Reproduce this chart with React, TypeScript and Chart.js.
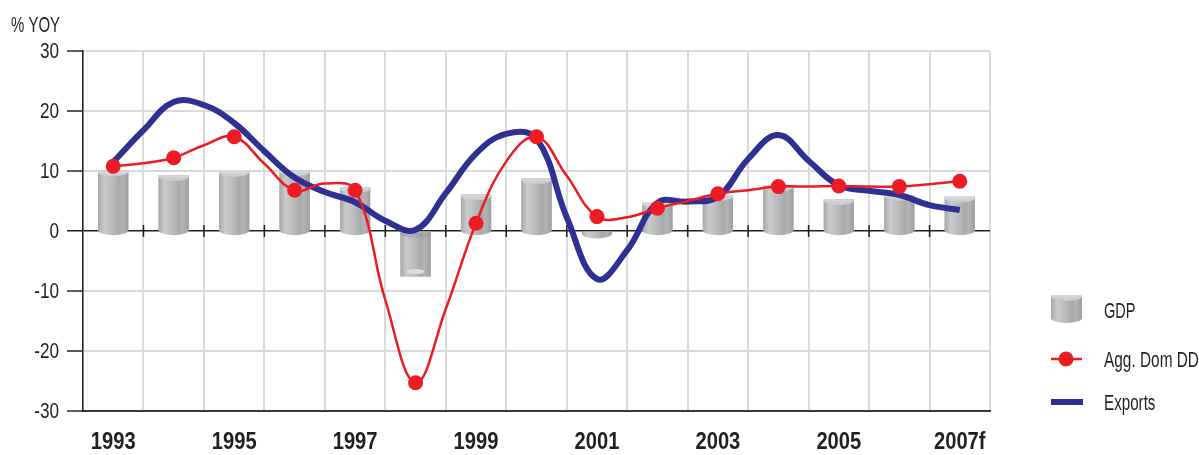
import React, { useEffect, useRef } from "react";
import { Chart, registerables } from "chart.js";

Chart.register(...registerables);

// Annual categories (GDP bars)
const yearLabels = ["1993", "1994", "1995", "1996", "1997", "1998", "1999", "2000", "2001", "2002", "2003", "2004", "2005", "2006", "2007f"];
const gdpGrowth = [10.1, 9.3, 10.0, 10.1, 7.3, -7.6, 6.1, 8.8, -0.4, 4.7, 6.0, 7.6, 5.3, 6.0, 5.7];

// Half-yearly readings for the two growth lines
const lineYears = [1993, 1993.5, 1994, 1994.5, 1995, 1995.5, 1996, 1996.5, 1997, 1997.5, 1998, 1998.5, 1999, 1999.5, 2000, 2000.5, 2001, 2001.5, 2002, 2002.5, 2003, 2003.5, 2004, 2004.5, 2005, 2005.5, 2006, 2006.5, 2007];
const aggDomDemand = [10.8, 11.3, 12.2, 14.3, 15.7, 11.2, 6.8, 7.9, 6.8, -11.5, -25.3, -13.0, 1.3, 11.6, 15.7, 9.2, 2.4, 2.3, 3.8, 5.0, 6.2, 6.8, 7.4, 7.4, 7.5, 7.4, 7.4, 7.8, 8.3];
const exportsGrowth = [11.5, 16.8, 21.5, 21.0, 18.0, 13.3, 8.9, 6.5, 4.8, 1.7, 0.2, 6.3, 12.9, 16.2, 15.4, 2.3, -8.0, -3.2, 4.7, 4.9, 5.7, 12.0, 16.0, 11.7, 7.6, 6.7, 6.0, 4.3, 3.5];

const yTicks = [-30, -20, -10, 0, 10, 20, 30];

const FONT = "'Liberation Sans', Arial, sans-serif";
const INK = "#231f20";
const RED = "#ed1c24";
const NAVY = "#2e3192";

// Draws text squeezed horizontally to give a condensed face.
function narrowText(ctx: CanvasRenderingContext2D, text: string, x: number, y: number, align: CanvasTextAlign, squeeze: number) {
  ctx.save();
  ctx.translate(x, y);
  ctx.scale(squeeze, 1);
  ctx.textAlign = align;
  ctx.textBaseline = "middle";
  ctx.fillText(text, 0, 0);
  ctx.restore();
}

function cylinderFill(ctx: CanvasRenderingContext2D, left: number, right: number) {
  const g = ctx.createLinearGradient(left, 0, right, 0);
  g.addColorStop(0, "#a7a8aa");
  g.addColorStop(0.2, "#c9cacc");
  g.addColorStop(0.45, "#bbbcbe");
  g.addColorStop(0.68, "#a8a9ab");
  g.addColorStop(0.8, "#b3b4b6");
  g.addColorStop(1, "#9d9ea0");
  return g;
}

function drawCylinder(ctx: CanvasRenderingContext2D, cx: number, w: number, top: number, bottom: number, positive: boolean) {
  const left = cx - w / 2;
  const right = cx + w / 2;
  const rx = w / 2;
  const tall = bottom - top > 10;
  ctx.save();
  ctx.fillStyle = cylinderFill(ctx, left, right);
  ctx.beginPath();
  ctx.moveTo(left, top);
  ctx.lineTo(right, top);
  ctx.lineTo(right, bottom);
  if (positive || !tall) {
    ctx.ellipse(cx, bottom, rx, 5, 0, 0, Math.PI, false);
  } else {
    ctx.lineTo(left, bottom);
  }
  ctx.closePath();
  ctx.fill();

  if (positive) {
    // lighter top face
    const tg = ctx.createLinearGradient(0, top, 0, top + 7);
    tg.addColorStop(0, "#d8d9da");
    tg.addColorStop(1, "#c4c5c7");
    ctx.fillStyle = tg;
    ctx.beginPath();
    ctx.moveTo(left, top);
    ctx.lineTo(right, top);
    ctx.ellipse(cx, top + 1, rx, 5, 0, 0, Math.PI, false);
    ctx.closePath();
    ctx.fill();
  } else if (tall) {
    // highlight near the lower end
    ctx.fillStyle = "rgba(225,226,228,0.9)";
    ctx.beginPath();
    ctx.ellipse(cx, bottom - 5, rx * 0.6, 2.5, 0, 0, Math.PI * 2);
    ctx.fill();
    ctx.fillStyle = "rgba(140,141,143,0.35)";
    ctx.beginPath();
    ctx.ellipse(cx, top + 2, rx, 4, 0, 0, Math.PI, false);
    ctx.lineTo(left, top);
    ctx.closePath();
    ctx.fill();
  }
  ctx.restore();
}

const cylinderBars = {
  id: "cylinderBars",
  afterDatasetDraw(chart: any, args: any) {
    if (args.index !== 0) return;
    const ctx = chart.ctx as CanvasRenderingContext2D;
    args.meta.data.forEach((el: any, i: number) => {
      const { x, y, base, width } = el.getProps(["x", "y", "base", "width"], true);
      const positive = gdpGrowth[i] >= 0;
      drawCylinder(ctx, x, width, Math.min(y, base), Math.max(y, base), positive);
    });
  },
};

const zeroLineTicks = {
  id: "zeroLineTicks",
  beforeDatasetsDraw(chart: any) {
    const ctx = chart.ctx as CanvasRenderingContext2D;
    const xs = chart.scales.x;
    const y0 = chart.scales.y.getPixelForValue(0);
    const n = yearLabels.length;
    const step = (xs.right - xs.left) / n;
    ctx.save();
    ctx.strokeStyle = INK;
    ctx.lineWidth = 1.5;
    for (let i = 1; i < n; i++) {
      const px = xs.left + i * step;
      ctx.beginPath();
      ctx.moveTo(px, y0 - 6);
      ctx.lineTo(px, y0 + 6);
      ctx.stroke();
    }
    ctx.restore();
  },
};

const axisLabels = {
  id: "axisLabels",
  afterDraw(chart: any) {
    const ctx = chart.ctx as CanvasRenderingContext2D;
    const ys = chart.scales.y;
    const xs = chart.scales.x;
    ctx.save();
    ctx.fillStyle = INK;
    ctx.font = `22px ${FONT}`;
    ys.ticks.forEach((t: any) => {
      narrowText(ctx, String(t.value), ys.right - 24, ys.getPixelForValue(t.value) + 1, "right", 0.78);
    });
    ctx.font = `bold 24px ${FONT}`;
    yearLabels.forEach((label, i) => {
      if (i % 2 !== 0) return;
      narrowText(ctx, label, xs.getPixelForValue(i), xs.top + 31, "center", 0.84);
    });
    ctx.restore();
  },
};

const titleAndLegend = {
  id: "titleAndLegend",
  afterDraw(chart: any) {
    const ctx = chart.ctx as CanvasRenderingContext2D;
    ctx.save();
    ctx.fillStyle = INK;
    ctx.font = `22px ${FONT}`;
    narrowText(ctx, "% YOY", 11, 26, "left", 0.68);

    // GDP swatch
    drawCylinder(ctx, 1066.5, 31, 295, 318, true);
    ctx.fillStyle = INK;
    narrowText(ctx, "GDP", 1104, 312, "left", 0.66);

    // Agg. Dom DD swatch
    ctx.strokeStyle = RED;
    ctx.lineWidth = 2.5;
    ctx.beginPath();
    ctx.moveTo(1051, 359);
    ctx.lineTo(1082, 359);
    ctx.stroke();
    ctx.fillStyle = RED;
    ctx.beginPath();
    ctx.arc(1066, 359, 7.5, 0, Math.PI * 2);
    ctx.fill();
    ctx.fillStyle = INK;
    narrowText(ctx, "Agg. Dom DD", 1104, 361, "left", 0.7);

    // Exports swatch
    ctx.strokeStyle = NAVY;
    ctx.lineWidth = 6;
    ctx.beginPath();
    ctx.moveTo(1051, 402);
    ctx.lineTo(1083, 402);
    ctx.stroke();
    ctx.fillStyle = INK;
    narrowText(ctx, "Exports", 1104, 404, "left", 0.69);
    ctx.restore();
  },
};

export default function App() {
  const canvasRef = useRef<HTMLCanvasElement>(null);

  useEffect(() => {
    const canvas = canvasRef.current;
    if (!canvas) return;
    const chart = new Chart(canvas, {
      type: "bar",
      data: {
        labels: yearLabels,
        datasets: [
          {
            type: "bar",
            label: "GDP",
            data: gdpGrowth,
            xAxisID: "x",
            backgroundColor: "#b3b4b6",
            borderWidth: 0,
            grouped: false,
            barPercentage: 0.5,
            categoryPercentage: 1,
            order: 3,
          } as any,
          {
            type: "line",
            label: "Agg. Dom DD",
            data: lineYears.map((x, i) => ({ x, y: aggDomDemand[i] })),
            xAxisID: "x2",
            borderColor: RED,
            backgroundColor: RED,
            borderWidth: 2.5,
            tension: 0.4,
            pointRadius: (c: any) => (c.raw && Number.isInteger(c.raw.x) ? 7.5 : 0),
            pointBorderWidth: 0,
            pointBackgroundColor: RED,
            order: 1,
          } as any,
          {
            type: "line",
            label: "Exports",
            data: lineYears.map((x, i) => ({ x, y: exportsGrowth[i] })),
            xAxisID: "x2",
            borderColor: NAVY,
            backgroundColor: NAVY,
            borderWidth: 6,
            borderCapStyle: "butt",
            borderJoinStyle: "round",
            tension: 0.4,
            pointRadius: 0,
            order: 2,
          } as any,
        ],
      },
      options: {
        responsive: false,
        animation: false,
        devicePixelRatio: 1,
        layout: { padding: { left: 0, top: 51, right: 209, bottom: 0 } },
        plugins: {
          legend: { display: false },
          tooltip: { enabled: false },
          title: { display: false },
        },
        scales: {
          x: {
            type: "category",
            offset: true,
            grid: {
              offset: true,
              color: "#dadada",
              lineWidth: 2,
              drawTicks: false,
            },
            border: { color: "#3a3a3a", width: 2 },
            ticks: { display: false, autoSkip: false },
            afterFit: (s: any) => {
              s.height = 44;
            },
          },
          x2: {
            type: "linear",
            display: false,
            offset: false,
            grid: { offset: false },
            min: 1992.5,
            max: 2007.5,
          },
          y: {
            min: -30,
            max: 30,
            afterBuildTicks: (s: any) => {
              s.ticks = yTicks.map((value) => ({ value }));
            },
            grid: {
              color: (c: any) => (c.tick && c.tick.value === 0 ? INK : "#dadada"),
              lineWidth: (c: any) => (c.tick && c.tick.value === 0 ? 1.5 : 2),
              tickColor: INK,
              tickLength: 16,
              tickWidth: 1.5,
            },
            border: { color: INK, width: 1.5 },
            ticks: { display: false },
            afterFit: (s: any) => {
              s.width = 83;
            },
          },
        },
      },
      plugins: [cylinderBars, zeroLineTicks, axisLabels, titleAndLegend],
    });
    return () => chart.destroy();
  }, []);

  return (
    <div style={{ position: "absolute", left: 0, top: 0, width: 1199, height: 455, background: "#fff" }}>
      <canvas ref={canvasRef} width={1199} height={455} style={{ display: "block" }} />
    </div>
  );
}
